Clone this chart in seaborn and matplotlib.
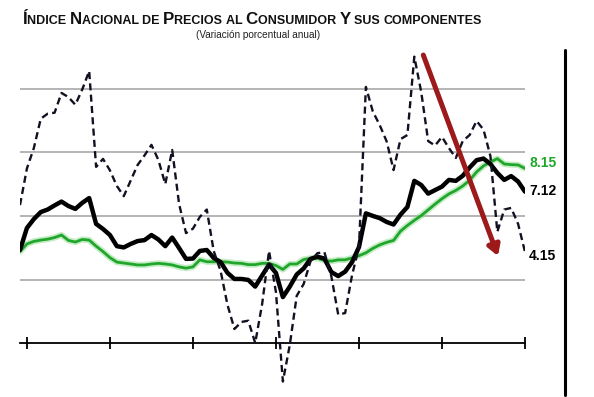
import numpy as np
import pandas as pd
import matplotlib
matplotlib.use("Agg")
import matplotlib.pyplot as plt
import seaborn as sns
from matplotlib.offsetbox import TextArea, HPacker, AnchoredOffsetbox
from matplotlib.lines import Line2D

# month index (-1 .. 72), ticks every 12 months
months = list(range(-1, 73))
tick_months = [0, 12, 24, 36, 48, 60, 72]

# no subyacente (dashed)
no_subyacente = [4.34, 5.49, 6.13, 7.05, 7.21, 7.24, 7.86, 7.73, 7.49, 7.97,
                 8.55, 5.54, 5.79, 5.43, 4.94, 4.62, 5.11, 5.60, 5.90, 6.23,
                 5.76, 5.00, 6.07, 4.37, 3.46, 3.60, 3.97, 4.20, 2.90, 2.27,
                 1.20, 0.45, 0.67, 0.71, 0.01, 1.23, 2.90, 1.60, -1.20, -0.05,
                 1.49, 1.86, 2.58, 2.83, 2.86, 2.11, 0.90, 0.95, 2.14, 3.02,
                 8.05, 7.28, 6.85, 6.34, 5.44, 6.41, 6.54, 9.00, 7.89, 6.35,
                 6.21, 6.48, 6.13, 5.82, 6.35, 6.54, 6.98, 6.71, 5.88, 3.50,
                 4.20, 4.25, 3.75, 2.87]
# INPC general (solid black)
general = [2.93, 3.62, 3.90, 4.12, 4.20, 4.33, 4.45, 4.31, 4.22, 4.41,
           4.56, 3.75, 3.59, 3.40, 3.05, 3.01, 3.12, 3.21, 3.24, 3.40,
           3.26, 3.05, 3.32, 2.99, 2.65, 2.66, 2.90, 2.93, 2.68, 2.55,
           2.21, 2.02, 2.02, 1.99, 1.78, 2.13, 2.47, 2.21, 1.45, 1.78,
           2.16, 2.35, 2.65, 2.72, 2.66, 2.24, 2.11, 2.25, 2.55, 3.02,
           4.08, 4.00, 3.93, 3.81, 3.73, 4.04, 4.28, 5.10, 4.97, 4.70,
           4.81, 4.92, 5.13, 5.10, 5.26, 5.52, 5.75, 5.80, 5.63, 5.35,
           5.13, 5.25, 5.08, 4.76]
# subyacente (green)
subyacente = [2.88, 3.12, 3.20, 3.24, 3.27, 3.32, 3.40, 3.23, 3.18, 3.26,
              3.24, 3.05, 2.88, 2.69, 2.55, 2.52, 2.49, 2.46, 2.46, 2.49,
              2.51, 2.49, 2.46, 2.40, 2.36, 2.40, 2.62, 2.56, 2.56, 2.56,
              2.55, 2.52, 2.51, 2.47, 2.47, 2.51, 2.51, 2.44, 2.32, 2.49,
              2.49, 2.63, 2.67, 2.67, 2.60, 2.58, 2.62, 2.62, 2.68, 2.75,
              2.84, 2.98, 3.09, 3.17, 3.23, 3.52, 3.70, 3.86, 4.01, 4.19,
              4.37, 4.54, 4.69, 4.80, 4.94, 5.12, 5.38, 5.57, 5.69, 5.80,
              5.63, 5.61, 5.60, 5.49]

end_labels = ["8.15", "7.12", "4.15"]

df = pd.DataFrame({
    "mes": months,
    "no_sub": no_subyacente,
    "general": general,
    "sub": subyacente,
})

sns.set_theme(style="white")
plt.rcParams["font.family"] = ["Liberation Sans", "DejaVu Sans"]

W, H = 594, 397
fig = plt.figure(figsize=(W / 100, H / 100), dpi=100)
fig.patch.set_facecolor("white")
ax = fig.add_axes([20 / W, 1 - 392 / H, 505 / W, 347 / H])
ax.set_facecolor("none")

GREEN = "#1fa62b"
sns.lineplot(data=df, x="mes", y="sub", ax=ax, color="#7fd67f", lw=4.5,
             alpha=0.45, zorder=3)
sns.lineplot(data=df, x="mes", y="sub", ax=ax, color=GREEN, lw=2.0, zorder=4)
sns.lineplot(data=df, x="mes", y="general", ax=ax, color="black", lw=3.2,
             zorder=5)
sns.lineplot(data=df, x="mes", y="no_sub", ax=ax, color="#111122", lw=1.7,
             linestyle=(0, (3.0, 1.8)), zorder=6)

ax.set_xlim(-1, 72)
ax.set_ylim(-1.529, 9.366)
ax.set_yticks([2, 4, 6, 8])
ax.yaxis.grid(True, color="#b4b4b4", lw=1.4)
ax.xaxis.grid(False)
ax.tick_params(axis="y", length=0, labelleft=False)
ax.set_xticks(tick_months)
ax.tick_params(axis="x", direction="inout", length=9, width=1.3,
               color="black", labelbottom=False, bottom=True)
for s in ["top", "right", "left"]:
    ax.spines[s].set_visible(False)
ax.spines["bottom"].set_position(("data", 0))
ax.spines["bottom"].set_color("black")
ax.spines["bottom"].set_linewidth(1.3)
ax.set_xlabel("")
ax.set_ylabel("")

# red arrow
ax.annotate("", xy=(68.1, 2.74), xytext=(57.3, 9.05),
            arrowprops=dict(arrowstyle="-|>,head_length=0.5,head_width=0.3",
                            color="#9c1a1a", lw=3.6, shrinkA=0, shrinkB=0),
            zorder=7)

# end labels
label_y = [5.66, 4.78, 2.74]
label_c = [GREEN, "black", "black"]
for txt, yv, c in zip(end_labels, label_y, label_c):
    ax.text(72.6, yv, txt, color=c, fontsize=10, fontweight="bold",
            va="center", ha="left", clip_on=False)

# title with small caps
big, small = 12.2, 9.0
words = [("Í", "NDICE "), ("N", "ACIONAL "), ("", "DE "), ("P", "RECIOS "),
         ("", "AL "), ("C", "ONSUMIDOR "), ("Y", " "), ("", "SUS "),
         ("", "COMPONENTES")]
parts = []
for b, s in words:
    if b:
        parts.append(TextArea(b, textprops=dict(fontsize=big, fontweight="bold",
                                                color="#111111")))
    parts.append(TextArea(s, textprops=dict(fontsize=small, fontweight="bold",
                                            color="#111111")))
pack = HPacker(children=parts, align="baseline", pad=0, sep=0)
anch = AnchoredOffsetbox(loc="center", child=pack, pad=0, frameon=False,
                         bbox_to_anchor=(252 / W, 1 - 19 / H),
                         bbox_transform=fig.transFigure, borderpad=0)
fig.add_artist(anch)
fig.text(258 / W, 1 - 35.5 / H, "(Variación porcentual anual)", fontsize=7.2,
         ha="center", va="center", color="#222222")

# right border line
fig.add_artist(Line2D([565 / W, 565 / W], [1 - 50 / H, 1 - 395 / H],
                      color="black", lw=2.2, transform=fig.transFigure))

fig.savefig("out.png", dpi=100)
